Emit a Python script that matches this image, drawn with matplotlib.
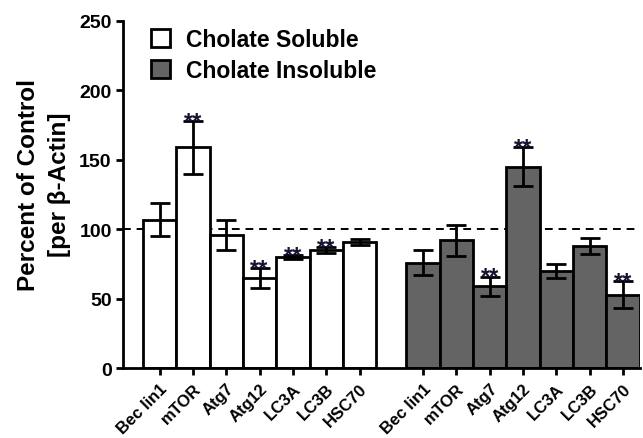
import numpy as np
import matplotlib.pyplot as plt
from matplotlib.patches import Patch

plt.rcParams["font.family"] = ["Liberation Sans", "DejaVu Sans"]
plt.rcParams["font.weight"] = "bold"

# ── data ────────────────────────────────────────────────────────────────
proteins = ["Bec lin1", "mTOR", "Atg7", "Atg12", "LC3A", "LC3B", "HSC70"]

soluble_mean = [107, 159, 96, 65, 80, 85, 91]
soluble_err = [12, 19, 11, 7, 1.5, 2, 2]
soluble_sig = [False, True, False, True, True, True, False]

insoluble_mean = [76, 92, 59, 145, 70, 88, 53]
insoluble_err = [9, 11, 7, 14, 5, 6, 10]
insoluble_sig = [False, False, True, True, False, False, True]

GRAY = "#646464"

fig = plt.figure(figsize=(6.43, 4.39), dpi=100)
ax = fig.add_axes([0.191, 0.159, 0.804, 0.791])

x_sol = np.arange(len(proteins))
x_ins = np.arange(len(proteins)) + len(proteins) + 0.9

for xs, mean, err, sig, fill in [
    (x_sol, soluble_mean, soluble_err, soluble_sig, "white"),
    (x_ins, insoluble_mean, insoluble_err, insoluble_sig, GRAY),
]:
    ax.bar(xs, mean, width=1.0, color=fill, edgecolor="black",
           linewidth=2.0, zorder=2)
    ax.errorbar(xs, mean, yerr=err, fmt="none", ecolor="black",
                elinewidth=2.0, capsize=7, capthick=2.0, zorder=3)
    for x, m, e, s in zip(xs, mean, err, sig):
        if s:
            ax.annotate("**", (x, m + e), xytext=(0, -5),
                        textcoords="offset points", ha="center",
                        va="baseline", fontsize=17, color="#141432",
                        zorder=4)

# dashed control line
ax.axhline(100, color="black", linestyle=(0, (4, 3)), linewidth=1.4, zorder=1)

ax.set_xlim(-1.1, x_ins[-1] + 0.5)
ax.set_ylim(0, 250)
ax.set_yticks([0, 50, 100, 150, 200, 250])
ax.set_xticks(np.concatenate([x_sol, x_ins]))
ax.set_xticklabels(proteins + proteins, rotation=45, ha="right",
                   rotation_mode="anchor", fontsize=12, fontweight="bold")
for lab in ax.get_yticklabels():
    lab.set_fontsize(14)
    lab.set_fontweight("bold")

ax.tick_params(axis="both", direction="out", length=5, width=2, pad=3)
ax.tick_params(axis="x", pad=4)
for side in ["top", "right"]:
    ax.spines[side].set_visible(False)
for side in ["left", "bottom"]:
    ax.spines[side].set_linewidth(2)

ax.set_ylabel("Percent of Control\n[per \u03b2-Actin]", fontsize=17.5,
              fontweight="bold", linespacing=1.45)
ax.yaxis.set_label_coords(-0.1, 0.53)

handles = [
    Patch(facecolor="white", edgecolor="black", linewidth=2, label="Cholate Soluble"),
    Patch(facecolor=GRAY, edgecolor="black", linewidth=2, label="Cholate Insoluble"),
]
ax.legend(handles=handles, loc="upper left", bbox_to_anchor=(0.032, 1.012),
          frameon=False, handlelength=0.85, handleheight=0.85,
          handletextpad=0.7, labelspacing=0.35, borderpad=0,
          prop={"weight": "bold", "size": 16.5})

fig.savefig("out.png", dpi=100, facecolor="white")
